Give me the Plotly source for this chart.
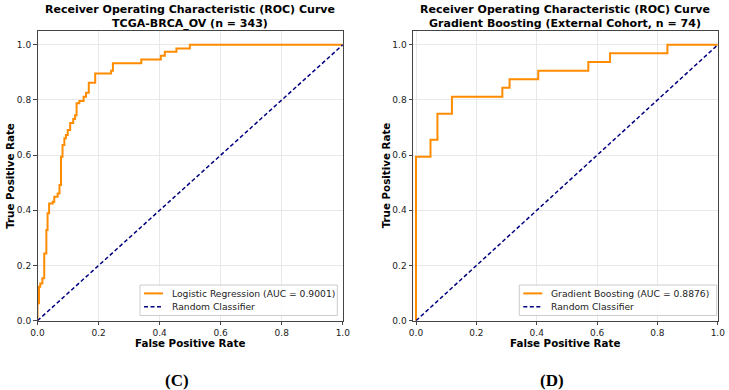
import plotly.graph_objects as go

# ---- data ----
lr_fpr = [0.0, 0.0, 0.005, 0.009, 0.016, 0.022, 0.029, 0.033, 0.038, 0.050, 0.055, 0.066, 0.072,
          0.077, 0.082, 0.088, 0.093, 0.099, 0.107, 0.117, 0.123, 0.128, 0.137, 0.151, 0.159,
          0.168, 0.189, 0.241, 0.247, 0.340, 0.404, 0.417, 0.455, 0.499, 1.0]
lr_tpr = [0.0, 0.063, 0.123, 0.135, 0.154, 0.244, 0.329, 0.389, 0.425, 0.431, 0.449, 0.461, 0.492,
          0.594, 0.637, 0.661, 0.673, 0.691, 0.717, 0.731, 0.745, 0.788, 0.796, 0.812, 0.826,
          0.862, 0.896, 0.906, 0.933, 0.947, 0.960, 0.975, 0.987, 1.0, 1.0]

gb_fpr = [0.0, 0.0, 0.048, 0.071, 0.119, 0.286, 0.310, 0.405, 0.571, 0.643, 0.833, 1.0]
gb_tpr = [0.0, 0.594, 0.656, 0.750, 0.812, 0.844, 0.875, 0.906, 0.938, 0.969, 1.0, 1.0]

diag = [0.0, 1.0]

tick_vals = [0.0, 0.2, 0.4, 0.6, 0.8, 1.0]
tick_text = ["0.0", "0.2", "0.4", "0.6", "0.8", "1.0"]

titles = ["Receiver Operating Characteristic (ROC) Curve<br>TCGA-BRCA_OV (n = 343)",
          "Receiver Operating Characteristic (ROC) Curve<br>Gradient Boosting (External Cohort, n = 74)"]
model_names = ["Logistic Regression (AUC = 0.9001)", "Gradient Boosting (AUC = 0.8876)"]
baseline_name = "Random Classifier"
panel_labels = ["(C)", "(D)"]
x_title = "False Positive Rate"
y_title = "True Positive Rate"

# ---- layout constants ----
W, H = 729, 390
ORANGE = "#FF8C00"
NAVY = "#000080"
FONT = "DejaVu Sans"
DASH = "4px,2.5px"


def px(v):
    return v / W


def py(v):
    return 1 - v / H


x_dom = [[px(37.5), px(342.8)], [px(413.0), px(717.8)]]
y_dom = [py(320.7), py(31.0)]
x_ranges = [[0.0, 1.0], [-0.01, 1.0]]
legend_boxes = [(140.0, 337.3), (519.3, 716.7)]  # left/right pixel edges
legend_top, legend_bottom = 285.0, 315.5
panel_label_x = [176.7, 551.7]

fig = go.Figure()

curves = [(lr_fpr, lr_tpr), (gb_fpr, gb_tpr)]
for i, (fx, ty) in enumerate(curves):
    xa = "x" if i == 0 else "x2"
    ya = "y" if i == 0 else "y2"
    fig.add_trace(go.Scatter(x=fx, y=ty, mode="lines", name=model_names[i],
                             line=dict(color=ORANGE, width=2, shape="hv"),
                             xaxis=xa, yaxis=ya, showlegend=False))
    fig.add_trace(go.Scatter(x=diag, y=diag, mode="lines", name=baseline_name,
                             line=dict(color=NAVY, width=1.5, dash=DASH),
                             xaxis=xa, yaxis=ya, showlegend=False))

axis_common = dict(
    showgrid=True, gridcolor="#e8e8e8", gridwidth=1,
    showline=True, linecolor="#444", linewidth=1, mirror=True,
    ticks="outside", ticklen=3.5, tickcolor="#444", tickwidth=1,
    tickvals=tick_vals, ticktext=tick_text,
    tickfont=dict(family=FONT, size=9, color="#222"),
    zeroline=False, automargin=False, fixedrange=True,
)

layout_axes = {}
for i in range(2):
    sfx = "" if i == 0 else "2"
    layout_axes["xaxis" + sfx] = dict(axis_common, domain=x_dom[i], range=x_ranges[i],
                                      anchor="y" + sfx)
    layout_axes["yaxis" + sfx] = dict(axis_common, domain=y_dom, range=[0.0, 1.05],
                                      anchor="x" + sfx)

annotations = []
shapes = []
for i in range(2):
    cx = (x_dom[i][0] + x_dom[i][1]) / 2
    annotations.append(dict(text="<b>" + titles[i] + "</b>", xref="paper", yref="paper",
                            x=cx, y=py(16.3), xanchor="center", yanchor="middle",
                            showarrow=False, font=dict(family=FONT, size=11, color="black")))
    annotations.append(dict(text="<b>" + x_title + "</b>", xref="paper", yref="paper",
                            x=cx, y=py(343), xanchor="center", yanchor="middle",
                            showarrow=False, font=dict(family=FONT, size=10.3, color="black")))
    annotations.append(dict(text="<b>" + y_title + "</b>", xref="paper", yref="paper",
                            x=x_dom[i][0] - px(27.5), y=(y_dom[0] + y_dom[1]) / 2,
                            xanchor="center", yanchor="middle", textangle=-90,
                            showarrow=False, font=dict(family=FONT, size=10.3, color="black")))
    annotations.append(dict(text="<b>" + panel_labels[i] + "</b>", xref="paper", yref="paper",
                            x=px(panel_label_x[i]), y=py(380), xanchor="center", yanchor="middle",
                            showarrow=False,
                            font=dict(family="Liberation Serif", size=17, color="black")))

    # legend (box, sample lines, labels)
    lx0, lx1 = legend_boxes[i]
    shapes.append(dict(type="rect", xref="paper", yref="paper",
                       x0=px(lx0), x1=px(lx1), y0=py(legend_bottom), y1=py(legend_top),
                       line=dict(color="#cccccc", width=1), fillcolor="rgba(255,255,255,0.85)",
                       layer="above"))
    rows = [(model_names[i], ORANGE, "solid", 2, 293.4), (baseline_name, NAVY, DASH, 1.5, 306.8)]
    for label, col, dsh, wd, yy in rows:
        shapes.append(dict(type="line", xref="paper", yref="paper",
                           x0=px(lx0 + 4), x1=px(lx0 + 23), y0=py(yy), y1=py(yy),
                           line=dict(color=col, width=wd, dash=dsh), layer="above"))
        annotations.append(dict(text=label, xref="paper", yref="paper",
                                x=px(lx0 + 29.5), y=py(yy), xanchor="left", yanchor="middle",
                                showarrow=False,
                                font=dict(family=FONT, size=9.2, color="#222")))

fig.update_layout(
    width=W, height=H, autosize=False,
    margin=dict(l=0, r=0, t=0, b=0),
    template="none",
    paper_bgcolor="white", plot_bgcolor="white",
    font=dict(family=FONT),
    showlegend=False,
    annotations=annotations,
    shapes=shapes,
    **layout_axes,
)

fig.write_html("out.html")
